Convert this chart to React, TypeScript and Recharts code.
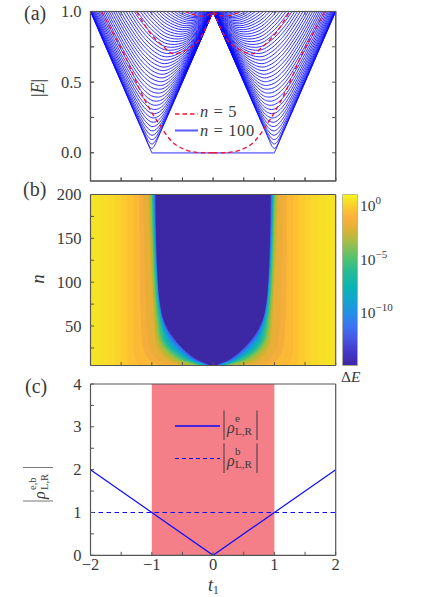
import {
  Area,
  Bar,
  ComposedChart,
  Legend,
  Line,
  ReferenceArea,
  XAxis,
  YAxis,
} from "recharts";

const FONT = "'Liberation Serif', serif";
const INK = "#3a3a3a";
const FRAME = "#555555";
const TICK_LEN = 3.5;

// panel (a): n = 100 levels, sampled at |t1| = gridS, E = 1 at t1 = 0 for all of them
const gridS = [0.25, 0.5, 0.75, 0.9, 1, 1.1, 1.25, 1.5, 1.75, 2];
const levelRows = [
  [0.75, 0.501, 0.251, 0.104, 0.031, 0.105, 0.252, 0.501, 0.751, 1.001],
  [0.751, 0.502, 0.256, 0.116, 0.062, 0.119, 0.259, 0.506, 0.754, 1.004],
  [0.751, 0.504, 0.263, 0.134, 0.093, 0.14, 0.271, 0.513, 0.76, 1.009],
  [0.753, 0.508, 0.272, 0.155, 0.124, 0.164, 0.286, 0.523, 0.768, 1.015],
  [0.754, 0.512, 0.284, 0.178, 0.155, 0.191, 0.304, 0.535, 0.778, 1.024],
  [0.756, 0.517, 0.298, 0.203, 0.186, 0.22, 0.325, 0.55, 0.789, 1.034],
  [0.758, 0.523, 0.313, 0.229, 0.217, 0.249, 0.349, 0.566, 0.803, 1.046],
  [0.76, 0.53, 0.33, 0.256, 0.248, 0.279, 0.373, 0.585, 0.819, 1.06],
  [0.763, 0.538, 0.348, 0.283, 0.279, 0.309, 0.4, 0.606, 0.836, 1.075],
  [0.766, 0.546, 0.367, 0.31, 0.31, 0.34, 0.427, 0.628, 0.855, 1.092],
  [0.769, 0.555, 0.387, 0.338, 0.341, 0.371, 0.455, 0.651, 0.875, 1.11],
  [0.773, 0.565, 0.407, 0.366, 0.371, 0.402, 0.484, 0.676, 0.896, 1.129],
  [0.776, 0.575, 0.428, 0.394, 0.402, 0.433, 0.514, 0.701, 0.919, 1.15],
  [0.781, 0.586, 0.45, 0.422, 0.432, 0.464, 0.544, 0.728, 0.943, 1.172],
  [0.785, 0.597, 0.472, 0.45, 0.462, 0.495, 0.574, 0.755, 0.968, 1.195],
  [0.789, 0.609, 0.494, 0.478, 0.493, 0.526, 0.605, 0.784, 0.994, 1.219],
  [0.794, 0.622, 0.517, 0.506, 0.523, 0.557, 0.636, 0.812, 1.02],
  [0.799, 0.635, 0.54, 0.534, 0.553, 0.588, 0.667, 0.842, 1.047],
  [0.805, 0.648, 0.563, 0.561, 0.582, 0.619, 0.697, 0.871, 1.075],
  [0.81, 0.661, 0.586, 0.589, 0.612, 0.65, 0.729, 0.901, 1.104],
  [0.816, 0.675, 0.609, 0.617, 0.641, 0.68, 0.759, 0.931, 1.132],
  [0.822, 0.689, 0.632, 0.644, 0.671, 0.71, 0.79, 0.962, 1.162],
  [0.828, 0.704, 0.656, 0.671, 0.7, 0.741, 0.821, 0.992, 1.192],
  [0.834, 0.718, 0.679, 0.699, 0.729, 0.771, 0.853, 1.023],
  [0.84, 0.733, 0.703, 0.726, 0.758, 0.801, 0.884, 1.055],
  [0.847, 0.748, 0.726, 0.753, 0.787, 0.831, 0.915, 1.086],
  [0.854, 0.763, 0.749, 0.78, 0.815, 0.861, 0.945, 1.117],
  [0.861, 0.778, 0.772, 0.807, 0.844, 0.891, 0.976, 1.148],
  [0.867, 0.794, 0.795, 0.833, 0.872, 0.92, 1.006],
  [0.875, 0.809, 0.818, 0.859, 0.9, 0.949, 1.037],
  [0.882, 0.825, 0.841, 0.886, 0.928, 0.978, 1.067],
  [0.889, 0.84, 0.864, 0.912, 0.955, 1.007],
  [0.896, 0.856, 0.886, 0.937, 0.982, 1.035],
  [0.904, 0.871, 0.909, 0.962, 1.009],
  [0.911, 0.887, 0.931, 0.988, 1.036],
  [0.919, 0.902, 0.953, 1.013],
  [0.927, 0.918, 0.975, 1.037],
  [0.934, 0.933, 0.997, 1.062],
  [0.942, 0.949, 1.019],
  [0.95, 0.964, 1.04],
  [0.958, 0.979, 1.061],
  [0.965, 0.994, 1.082],
  [0.973, 1.009],
  [0.981, 1.024],
  [0.989, 1.039],
  [0.996, 1.054],
];
const edgeT = [-2, -1, 1, 2];
const edgeE = [1, 0, 0, 1];
const flatT = [-1, 1];
const flatE = [0, 0];

// panel (a): n = 5 levels, left half, mirrored for t1 > 0
const n5OuterT = [-1.82, -1.6, -1.41, -1.19, -0.98, -0.8, -0.65, -0.5, -0.37, -0.2, 0];
const n5OuterE = [1, 0.82, 0.66, 0.44, 0.27, 0.15, 0.07, 0.03, 0.01, 0, 0];
const n5MidT = [-1.25, -1, -0.78, -0.62, -0.35, -0.18, 0];
const n5MidE = [1, 0.834, 0.74, 0.7, 0.75, 0.834, 1];
const n5TopT = [-0.46, -0.3, -0.13, 0];
const n5TopE = [1, 0.975, 0.97, 1];

// panel (b): half-width in t1 of the region below each colour level, per row of n
const mapN = [5, 8, 11, 16, 22, 34, 45, 57, 75, 100, 140, 200];
const mapColors = [
  "#F7DF27", "#FAD92A", "#FCD22C", "#FECB2E", "#FEC230", "#FCB935", "#F5AE3B",
  "#E8AE38", "#CDB32F", "#A6BC3A", "#6CC35C", "#37BD8A", "#12B5AE", "#0FA4CF",
  "#1C8CE8", "#3570F5", "#4456E0", "#3C28A5",
];
const mapWidths = [
  [1.85, 1.85, 1.85, 1.85, 1.85, 1.85, 1.85, 1.85, 1.85, 1.85, 1.85, 1.85],
  [1.72, 1.72, 1.72, 1.72, 1.72, 1.72, 1.72, 1.72, 1.72, 1.72, 1.72, 1.72],
  [1.6, 1.6, 1.6, 1.6, 1.6, 1.6, 1.6, 1.6, 1.6, 1.6, 1.6, 1.6],
  [1.5, 1.5, 1.5, 1.5, 1.5, 1.5, 1.5, 1.5, 1.5, 1.5, 1.5, 1.5],
  [1.36, 1.38, 1.4, 1.4, 1.4, 1.4, 1.4, 1.4, 1.4, 1.4, 1.4, 1.4],
  [1.2, 1.24, 1.27, 1.29, 1.3, 1.3, 1.3, 1.3, 1.3, 1.3, 1.3, 1.3],
  [0.85, 0.95, 1.03, 1.09, 1.13, 1.16, 1.17, 1.18, 1.19, 1.195, 1.2, 1.2],
  [0.68, 0.8, 0.89, 0.97, 1.02, 1.06, 1.08, 1.09, 1.1, 1.11, 1.125, 1.14],
  [0.51, 0.62, 0.73, 0.81, 0.88, 0.94, 0.955, 0.965, 0.98, 1, 1.03, 1.06],
  [0.4, 0.52, 0.64, 0.74, 0.82, 0.905, 0.93, 0.945, 0.965, 0.985, 1.01, 1.04],
  [0.25, 0.4, 0.54, 0.66, 0.757, 0.866, 0.9, 0.92, 0.945, 0.965, 0.985, 1.01],
  [0.21, 0.35, 0.48, 0.6, 0.71, 0.83, 0.87, 0.895, 0.925, 0.95, 0.975, 1],
  [0.17, 0.3, 0.41, 0.53, 0.655, 0.785, 0.83, 0.865, 0.9, 0.93, 0.96, 0.985],
  [0.13, 0.26, 0.37, 0.48, 0.6, 0.74, 0.8, 0.85, 0.89, 0.92, 0.95, 0.975],
  [0.1, 0.22, 0.33, 0.44, 0.55, 0.7, 0.78, 0.835, 0.88, 0.91, 0.94, 0.965],
  [0.08, 0.19, 0.3, 0.41, 0.51, 0.67, 0.76, 0.825, 0.875, 0.905, 0.935, 0.955],
  [0.065, 0.17, 0.27, 0.385, 0.485, 0.645, 0.745, 0.815, 0.87, 0.902, 0.93, 0.948],
  [0.05, 0.15, 0.25, 0.36, 0.46, 0.62, 0.73, 0.81, 0.865, 0.9, 0.925, 0.94],
];
const mapBase = "#F6E326";

// colour bar
const cbarOffsets = [0, 0.08, 0.16, 0.24, 0.31, 0.38, 0.46, 0.55, 0.63, 0.7, 0.76, 0.82, 0.87, 0.92, 0.97, 1];
const cbarColors = [
  "#3D26A6", "#4338C8", "#4757E6", "#3A78F3", "#2390E6", "#12A5D2", "#0AB4B4", "#25BC95",
  "#55C26E", "#8EBF50", "#C4B838", "#EDB038", "#FDB23A", "#FDC72E", "#F5E525", "#F9F71A",
];
const cbarExponents = [0, -5, -10];

// panel (c)
const edgeRhoT = [-2, -1, 0, 1, 2];
const edgeRho = [2, 1, 0, 1, 2];
const bulkRhoT = [-2, 2];
const bulkRho = [1, 1];

const xTicks = [-2, -1.5, -1, -0.5, 0, 0.5, 1, 1.5, 2];
const xLabels = [-2, -1, 0, 1, 2];
const aTicks = [0, 0.25, 0.5, 0.75, 1];
const aLabels = [0, 0.5, 1];
const bTicks = [25, 50, 75, 100, 125, 150, 175, 200];
const bLabels = [50, 100, 150, 200];
const cTicks = [0, 0.5, 1, 1.5, 2, 2.5, 3, 3.5, 4];
const cLabels = [0, 1, 2, 3, 4];

const fmtMinus = (v: number) => (v < 0 ? `\u2212${-v}` : `${v}`);

const pts = (ts: number[], es: number[], sign = 1) => {
  const out = ts.map((t, i) => ({ t: t * sign, E: es[i] }));
  return sign < 0 ? out.reverse() : out;
};

const leftLevel = (row: number[]) => [
  ...row.map((E, i) => ({ t: -gridS[i], E })).reverse(),
  { t: 0, E: 1 },
];
const rightLevel = (row: number[]) => [
  { t: 0, E: 1 },
  ...row.map((E, i) => ({ t: gridS[i], E })),
];

const mapTable = mapN.map((n, i) => {
  const row: Record<string, number | number[]> = { n };
  mapWidths.forEach((w, j) => {
    row[`b${j}`] = [-w[i], w[i]];
  });
  return row;
});

const cbarTable = [{ name: "dE", span: [-15, 1] }];

function yTick(labels: number[], fmt: (v: number) => string) {
  return ({ x, y, payload }: any) => (
    <g>
      <line x1={x} x2={x + TICK_LEN} y1={y} y2={y} stroke={FRAME} />
      {labels.includes(payload.value) && (
        <text x={x - 9} y={y + 5.5} textAnchor="end" fontSize={16.5} fontFamily={FONT} fill={INK}>
          {fmt(payload.value)}
        </text>
      )}
    </g>
  );
}

const rightTick = ({ x, y }: any) => (
  <line x1={x} x2={x - TICK_LEN} y1={y} y2={y} stroke={FRAME} />
);

const topTick = ({ x, y }: any) => (
  <line x1={x} x2={x} y1={y} y2={y + TICK_LEN} stroke={FRAME} />
);

const bottomTick = (labels: number[]) => ({ x, y, payload }: any) => (
  <g>
    <line x1={x} x2={x} y1={y} y2={y - TICK_LEN} stroke={FRAME} />
    {labels.includes(payload.value) && (
      <text x={x} y={y + 15} textAnchor="middle" fontSize={16.5} fontFamily={FONT} fill={INK}>
        {fmtMinus(payload.value)}
      </text>
    )}
  </g>
);

const cbarTick = ({ x, y, payload }: any) => (
  <text x={x + 3} y={y + 6} fontSize={15.5} fontFamily={FONT} fill={INK}>
    10
    <tspan fontSize={11} dy={-7}>
      {fmtMinus(payload.value)}
    </tspan>
  </text>
);

// the four sides of a panel frame; axes need at least 1px of room or they are not drawn
function frameAxes(
  yDomain: number[],
  yTicks: number[],
  yLabels: number[],
  fmt: (v: number) => string,
  labels: number[],
  vertical = false,
) {
  const line = { stroke: FRAME, strokeWidth: 1.2 };
  return [
    <XAxis
      key="xb"
      xAxisId={0}
      type="number"
      dataKey={vertical ? undefined : "t"}
      domain={[-2, 2]}
      ticks={xTicks}
      interval={0}
      height={1}
      tickSize={0}
      tickMargin={0}
      tickLine={false}
      allowDataOverflow
      axisLine={line}
      tick={bottomTick(labels)}
    />,
    <XAxis
      key="xt"
      xAxisId="top"
      orientation="top"
      type="number"
      domain={[-2, 2]}
      ticks={xTicks}
      interval={0}
      height={1}
      tickSize={0}
      tickMargin={0}
      tickLine={false}
      axisLine={line}
      tick={topTick}
    />,
    <YAxis
      key="yl"
      yAxisId={0}
      type="number"
      dataKey={vertical ? "n" : undefined}
      domain={yDomain}
      reversed={vertical}
      ticks={yTicks}
      interval={0}
      width={1}
      tickSize={0}
      tickMargin={0}
      tickLine={false}
      allowDataOverflow
      axisLine={line}
      tick={yTick(yLabels, fmt)}
    />,
    <YAxis
      key="yr"
      yAxisId="right"
      orientation="right"
      type="number"
      domain={yDomain}
      reversed={vertical}
      ticks={yTicks}
      interval={0}
      width={1}
      tickSize={0}
      tickMargin={0}
      tickLine={false}
      axisLine={line}
      tick={rightTick}
    />,
  ];
}

const BLUE = "#0a0aff";
const levelLine = (data: { t: number; E: number }[], key: string) => (
  <Line
    key={key}
    data={data}
    dataKey="E"
    type="natural"
    stroke={BLUE}
    strokeWidth={0.85}
    dot={false}
    isAnimationActive={false}
    legendType="none"
  />
);
const redLine = (data: { t: number; E: number }[], key: string) => (
  <Line
    key={key}
    data={data}
    dataKey="E"
    type="natural"
    stroke="#f01030"
    strokeWidth={1.3}
    strokeDasharray="4.5 3"
    dot={false}
    isAnimationActive={false}
    legendType="none"
  />
);

const LegendA = () => (
  <svg width={100} height={46} style={{ display: "block" }} fontFamily={FONT} fill={INK}>
    <line x1={0} x2={23} y1={14} y2={14} stroke="#f01030" strokeWidth={1.3} strokeDasharray="4.5 3" />
    <line x1={0} x2={23} y1={30.5} y2={30.5} stroke="#5a5aff" strokeWidth={2} />
    <text x={25} y={17} fontSize={16.5} letterSpacing={0.6}>
      <tspan fontStyle="italic">n</tspan> = 5
    </text>
    <text x={25} y={36} fontSize={16.5} letterSpacing={0.6}>
      <tspan fontStyle="italic">n</tspan> = 100
    </text>
  </svg>
);

const RhoKey = ({ y, sup }: { y: number; sup: string }) => (
  <g fontFamily={FONT} fill={INK}>
    <line x1={49} x2={49} y1={y - 15.5} y2={y + 14} stroke={INK} />
    <line x1={82} x2={82} y1={y - 15.5} y2={y + 14} stroke={INK} />
    <text x={52} y={y + 7} fontSize={16} fontStyle="italic">
      ρ
    </text>
    <text x={60} y={y + 8.5} fontSize={11}>
      L,R
    </text>
    <text x={60} y={y - 4} fontSize={11}>
      {sup}
    </text>
  </g>
);

const LegendC = () => (
  <svg width={90} height={72} style={{ display: "block" }}>
    <line x1={0} x2={45} y1={17} y2={17} stroke={BLUE} strokeWidth={1.4} />
    <line x1={0} x2={45} y1={49.5} y2={49.5} stroke={BLUE} strokeWidth={1.2} strokeDasharray="4 3" />
    <RhoKey y={17} sup="e" />
    <RhoKey y={50} sup="b" />
  </svg>
);

// frame of panel (a), kept on top of the curves
const aLeft = 90.5;
const aRight = 335.7;
const aTop = 11.5;
const aBottom = 181;
const aX = (t: number) => aLeft + ((t + 2) / 4) * (aRight - aLeft);
const aY = (e: number) => aBottom - ((e + 0.2) / 1.2) * (aBottom - aTop);

export default function App() {
  return (
    <div style={{ position: "absolute", left: 0, top: 0, width: 436, height: 597, background: "#fff" }}>
      <div style={{ position: "absolute", left: 0, top: 0 }}>
        <ComposedChart width={436} height={190} margin={{ top: 10.5, bottom: 8, left: 89.5, right: 99.3 }}>
          {levelRows.map((r, i) => levelLine(leftLevel(r), `l${i}`))}
          {levelRows.map((r, i) => levelLine(rightLevel(r), `r${i}`))}
          <Line data={pts(edgeT, edgeE)} dataKey="E" stroke={BLUE} strokeWidth={0.85} dot={false} isAnimationActive={false} legendType="none" />
          <Line data={pts(flatT, flatE)} dataKey="E" stroke="#8484ff" strokeWidth={1.6} dot={false} isAnimationActive={false} legendType="none" />
          {redLine(pts(n5OuterT, n5OuterE), "ro")}
          {redLine(pts(n5OuterT, n5OuterE, -1), "ro2")}
          {redLine(pts(n5MidT, n5MidE), "rm")}
          {redLine(pts(n5MidT, n5MidE, -1), "rm2")}
          {redLine(pts(n5TopT, n5TopE), "rt")}
          {redLine(pts(n5TopT, n5TopE, -1), "rt2")}
          {frameAxes([-0.2, 1], aTicks, aLabels, (v) => v.toFixed(1), [])}
          <Legend
            layout="horizontal"
            verticalAlign="middle"
            content={LegendA}
            wrapperStyle={{ left: 175, top: 100, width: 100, height: 46 }}
          />
        </ComposedChart>
      </div>

      <div style={{ position: "absolute", left: 0, top: 178 }}>
        <ComposedChart
          width={436}
          height={192}
          layout="vertical"
          data={mapTable}
          margin={{ top: 15.5, bottom: 3.5, left: 89.5, right: 99.3 }}
        >
          <ReferenceArea x1={-2} x2={2} y1={5} y2={200} fill={mapBase} fillOpacity={1} stroke="none" />
          {mapColors.map((c, j) => (
            <Area
              key={c}
              dataKey={`b${j}`}
              type="monotoneY"
              fill={c}
              fillOpacity={1}
              stroke="none"
              dot={false}
              activeDot={false}
              isAnimationActive={false}
              legendType="none"
            />
          ))}
          {frameAxes([5, 200], bTicks, bLabels, (v) => `${v}`, [], true)}
        </ComposedChart>
      </div>

      <div style={{ position: "absolute", left: 336, top: 190 }}>
        <ComposedChart
          width={100}
          height={180}
          data={cbarTable}
          barCategoryGap={0}
          margin={{ top: 4.5, bottom: 4.5, left: 6.5, right: 78 }}
        >
          <defs>
            <linearGradient id="parula" x1="0" y1="1" x2="0" y2="0">
              {cbarOffsets.map((o, i) => (
                <stop key={o} offset={o} stopColor={cbarColors[i]} />
              ))}
            </linearGradient>
          </defs>
          <XAxis dataKey="name" hide />
          <YAxis
            orientation="right"
            type="number"
            domain={[-15, 1]}
            ticks={cbarExponents}
            interval={0}
            width={1}
            tickSize={0}
            tickMargin={0}
            tickLine={false}
            axisLine={false}
            tick={cbarTick}
          />
          <Bar dataKey="span" fill="url(#parula)" stroke="#b0ab8a" strokeWidth={0.8} isAnimationActive={false} legendType="none" />
        </ComposedChart>
      </div>

      <div style={{ position: "absolute", left: 0, top: 375 }}>
        <ComposedChart width={436} height={200} margin={{ top: 8, bottom: 18.7, left: 89.5, right: 99.3 }}>
          <ReferenceArea x1={-1} x2={1} y1={0} y2={4} fill="#F47F88" fillOpacity={1} stroke="none" />
          {frameAxes([0, 4], cTicks, cLabels, (v) => `${v}`, xLabels)}
          <Line data={pts(edgeRhoT, edgeRho)} dataKey="E" stroke={BLUE} strokeWidth={1.2} dot={false} isAnimationActive={false} legendType="none" />
          <Line data={pts(bulkRhoT, bulkRho)} dataKey="E" stroke={BLUE} strokeWidth={1.2} strokeDasharray="4.5 3.5" dot={false} isAnimationActive={false} legendType="none" />
          <Legend
            layout="horizontal"
            verticalAlign="middle"
            content={LegendC}
            wrapperStyle={{ left: 175, top: 34, width: 90, height: 72 }}
          />
        </ComposedChart>
      </div>

      <svg
        width={436}
        height={597}
        style={{ position: "absolute", left: 0, top: 0, pointerEvents: "none" }}
        fontFamily={FONT}
        fill={INK}
      >
        <rect x={aLeft} y={aTop} width={aRight - aLeft} height={aBottom - aTop} fill="none" stroke={FRAME} strokeWidth={1.2} />
        {aTicks.map((e) => (
          <g key={e} stroke={FRAME}>
            <line x1={aLeft} x2={aLeft + TICK_LEN} y1={aY(e)} y2={aY(e)} />
            <line x1={aRight} x2={aRight - TICK_LEN} y1={aY(e)} y2={aY(e)} />
          </g>
        ))}
        {xTicks.map((t) => (
          <g key={t} stroke={FRAME}>
            <line x1={aX(t)} x2={aX(t)} y1={aBottom} y2={aBottom - TICK_LEN} />
            <line x1={aX(t)} x2={aX(t)} y1={aTop} y2={aTop + TICK_LEN} />
          </g>
        ))}
        <text x={24} y={20} fontSize={20}>(a)</text>
        <text x={23} y={196} fontSize={20}>(b)</text>
        <text x={25} y={393} fontSize={20}>(c)</text>
        <text transform="translate(44,88) rotate(-90)" textAnchor="middle" fontSize={18}>
          |<tspan fontStyle="italic">E</tspan>|
        </text>
        <text transform="translate(44,279) rotate(-90)" textAnchor="middle" fontSize={19} fontStyle="italic">
          n
        </text>
        <line x1={23} x2={53} y1={467.5} y2={467.5} stroke="#777" />
        <line x1={23} x2={53} y1={501} y2={501} stroke="#777" />
        <text transform="translate(45,499) rotate(-90)" fontSize={16} fontStyle="italic">ρ</text>
        <text transform="translate(48,490) rotate(-90)" fontSize={10.5}>L,R</text>
        <text transform="translate(36,490) rotate(-90)" fontSize={10.5}>e,b</text>
        <text x={341} y={382} fontSize={15.5}>
          Δ<tspan fontStyle="italic">E</tspan>
        </text>
        <text x={208} y={591} fontSize={18} fontStyle="italic">
          t<tspan fontSize={11.5} fontStyle="normal" dy={3}>1</tspan>
        </text>
      </svg>
    </div>
  );
}
